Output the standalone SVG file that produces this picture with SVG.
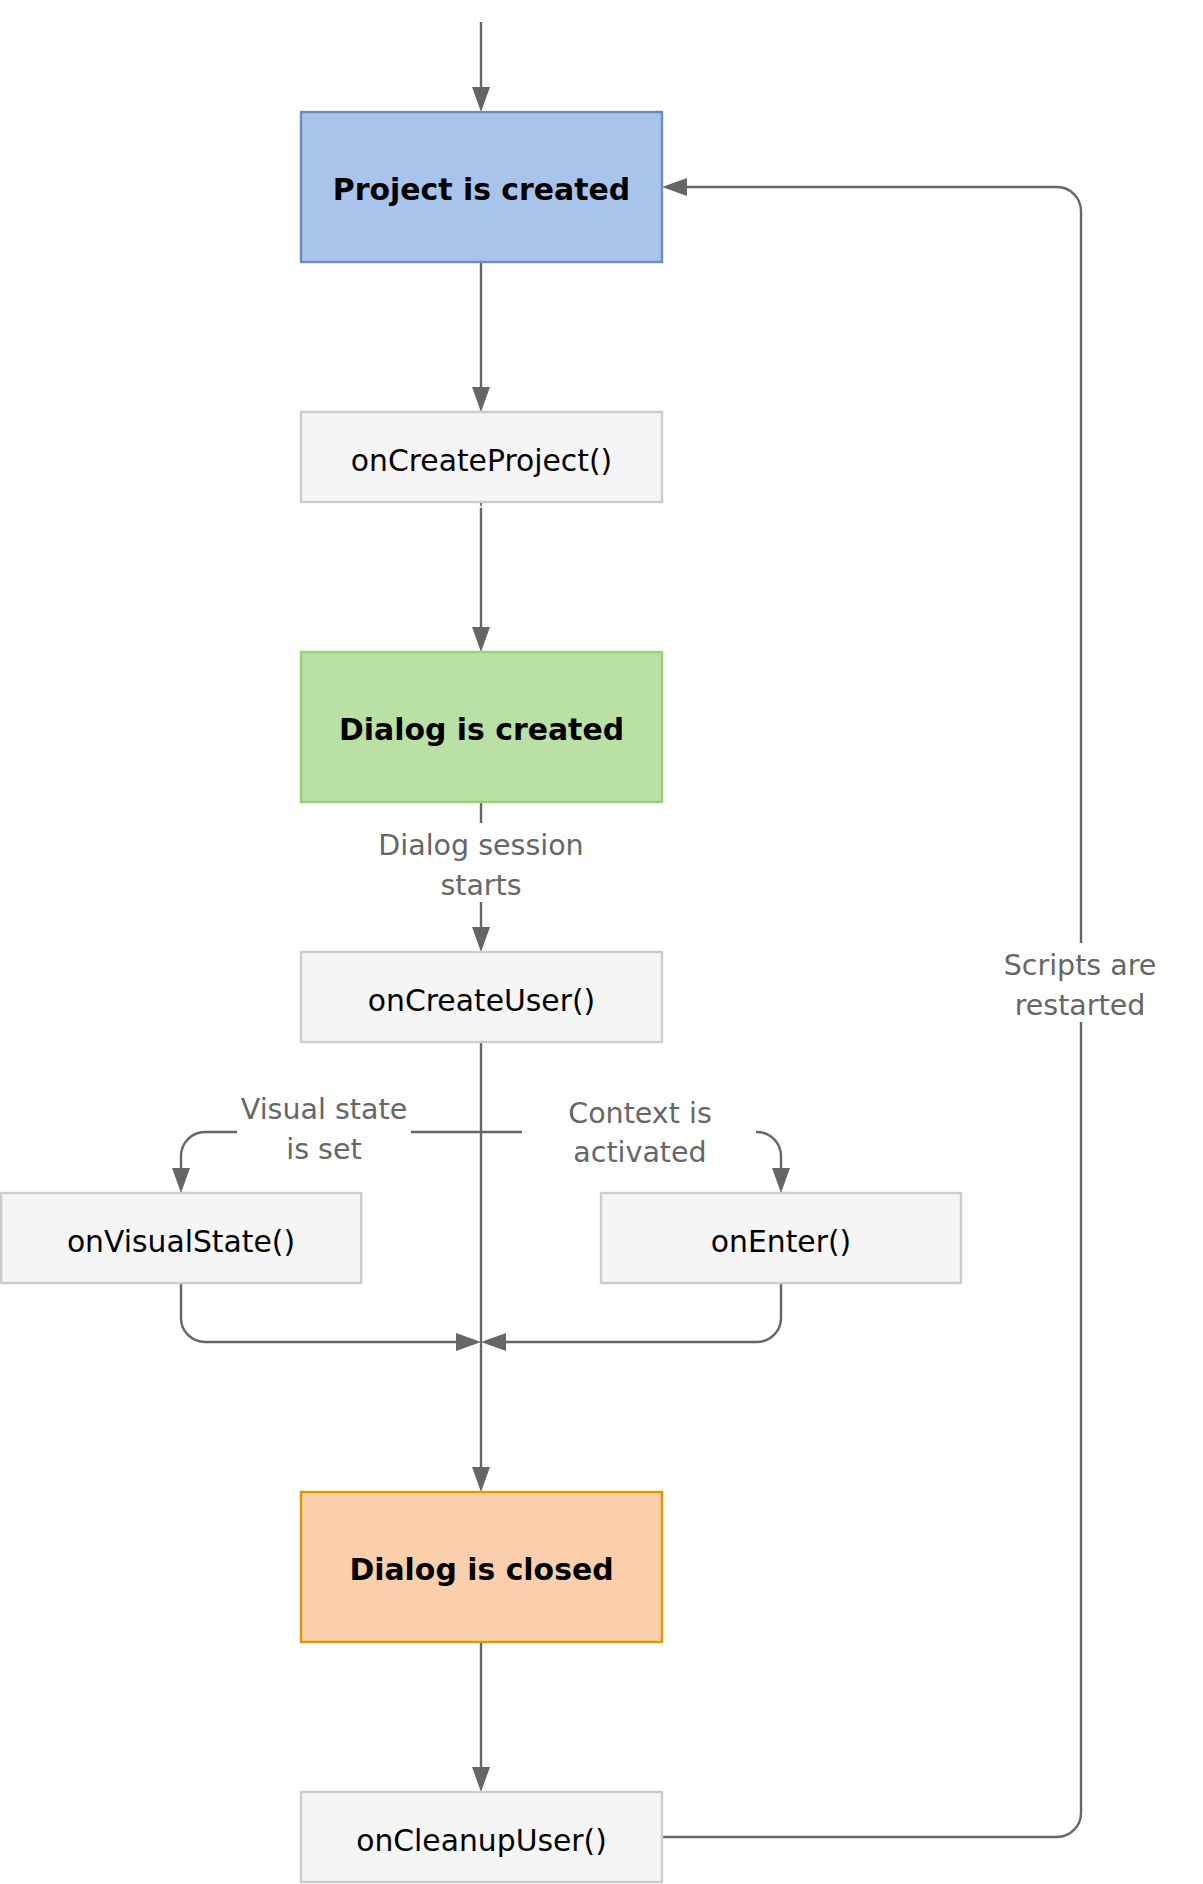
<svg xmlns="http://www.w3.org/2000/svg" width="1203" height="1884" viewBox="0 0 1203 1884">
<style>
.box{stroke-width:2.4}
.blue{fill:#A9C4EB;stroke:#6C8EBF}
.green{fill:#B9E0A5;stroke:#97D077}
.orange{fill:#FBCFAC;stroke:#D79B00}
.gray{fill:#F5F5F5;stroke:#CCCCCC}
.t{font-family:"DejaVu Sans",Verdana,sans-serif;font-size:29.8px;text-anchor:middle;fill:#000}
.b{font-weight:bold;font-size:29.9px}
.lbl{font-family:"DejaVu Sans",Verdana,sans-serif;font-size:28.5px;text-anchor:middle;fill:#666666}
.c{fill:none;stroke:#666666;stroke-width:2.4}
.ca{fill:none;stroke:#666666;stroke-width:2.4;marker-end:url(#arr)}
</style>
<defs>
<marker id="arr" markerUnits="userSpaceOnUse" markerWidth="26" markerHeight="20" refX="0" refY="9" orient="auto" overflow="visible">
<path d="M0,0 L25,9 L0,18 Z" fill="#666666"/>
</marker>
</defs>
<g id="connectors">
<path class="ca" d="M481,22 V87"/>
<path class="ca" d="M481,262 V387"/>
<path class="ca" d="M481,508 V627" />
<path d="M481,508 L479.5,502 L482.5,502 Z" fill="#666666"/>
<path class="c" d="M481,802 V823"/>
<path class="ca" d="M481,902 V927"/>
<path class="ca" d="M481,1042 V1467"/>
<path class="c" d="M481,1132 H411"/>
<path class="ca" d="M237,1132 H205 A24,24 0 0 0 181,1156 V1168"/>
<path class="c" d="M481,1132 H522"/>
<path class="ca" d="M756,1132 H757 A24,24 0 0 1 781,1156 V1168"/>
<path class="ca" d="M181,1283 V1318 A24,24 0 0 0 205,1342 H456"/>
<path class="ca" d="M781,1283 V1318 A24,24 0 0 1 757,1342 H506"/>
<path class="ca" d="M481,1643 V1767"/>
<path class="c" d="M662,1837 H1057 A24,24 0 0 0 1081,1813 V1022"/>
<path class="ca" d="M1081,943 V211 A24,24 0 0 0 1057,187 H687"/>
<text class="lbl" x="481" y="855">Dialog session</text>
<text class="lbl" x="481" y="895">starts</text>
<text class="lbl" x="324" y="1119">Visual state</text>
<text class="lbl" x="324" y="1159">is set</text>
<text class="lbl" x="640" y="1123">Context is</text>
<text class="lbl" x="640" y="1162">activated</text>
<text class="lbl" x="1080" y="975">Scripts are</text>
<text class="lbl" x="1080" y="1015">restarted</text>
</g>
<g id="project-created">
<rect class="box blue" x="301" y="112" width="361" height="150"/>
<text class="t b" x="481.5" y="200">Project is created</text>
</g>
<g id="on-create-project">
<rect class="box gray" x="301" y="412" width="361" height="90"/>
<text class="t" x="481.5" y="471">onCreateProject()</text>
</g>
<g id="dialog-created">
<rect class="box green" x="301" y="652" width="361" height="150"/>
<text class="t b" x="481.5" y="740">Dialog is created</text>
</g>
<g id="on-create-user">
<rect class="box gray" x="301" y="952" width="361" height="90"/>
<text class="t" x="481.5" y="1011">onCreateUser()</text>
</g>
<g id="on-visual-state">
<rect class="box gray" x="1.2" y="1193" width="360" height="90"/>
<text class="t" x="181" y="1252">onVisualState()</text>
</g>
<g id="on-enter">
<rect class="box gray" x="601" y="1193" width="360" height="90"/>
<text class="t" x="781" y="1252">onEnter()</text>
</g>
<g id="dialog-closed">
<rect class="box orange" x="301" y="1492" width="361" height="150"/>
<text class="t b" x="481.5" y="1580">Dialog is closed</text>
</g>
<g id="on-cleanup-user">
<rect class="box gray" x="301" y="1792" width="361" height="90"/>
<text class="t" x="481.5" y="1851">onCleanupUser()</text>
</g>
</svg>
